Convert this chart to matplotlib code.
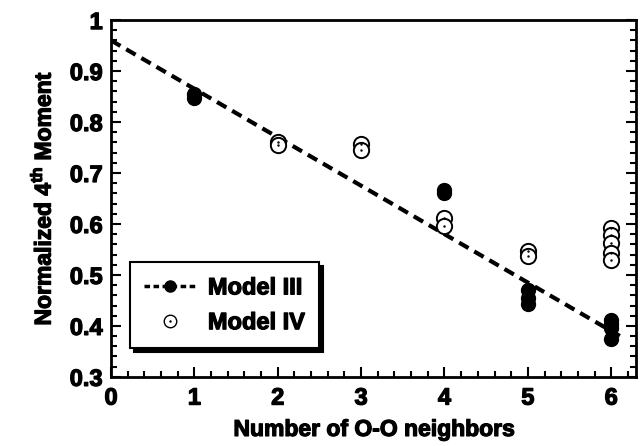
import numpy as np
import matplotlib
matplotlib.use('Agg')
import matplotlib.pyplot as plt
from matplotlib.ticker import MultipleLocator, FormatStrFormatter
from matplotlib.legend_handler import HandlerTuple
from matplotlib.lines import Line2D
import matplotlib.patheffects as pe

# data
m3_x = [1, 1, 4, 4, 5, 5, 5, 6, 6, 6, 6]
m3_y = [0.855, 0.848, 0.667, 0.660, 0.470, 0.455, 0.443, 0.412, 0.404, 0.395, 0.374]
m4_x = [2, 2, 3, 3, 4, 4, 5, 5, 6, 6, 6, 6, 6]
m4_y = [0.761, 0.755, 0.757, 0.745, 0.611, 0.596, 0.546, 0.538,
        0.592, 0.578, 0.562, 0.543, 0.529]
fit_intercept = 0.96
fit_slope = -0.095
fit_range = [0.0, 6.17]

plt.rcParams['font.family'] = ['Liberation Sans', 'DejaVu Sans']
plt.rcParams['font.weight'] = 'bold'
plt.rcParams['mathtext.fontset'] = 'custom'
plt.rcParams['mathtext.rm'] = 'Liberation Sans:bold'
plt.rcParams['mathtext.bf'] = 'Liberation Sans:bold'

thick = [pe.withStroke(linewidth=0.9, foreground='black')]


def main():
    fig = plt.figure(figsize=(6.42, 4.46), dpi=100)
    ax = fig.add_axes([0.173, 0.155, 0.818, 0.8])

    xf = np.linspace(fit_range[0], fit_range[1], 50)
    ax.plot(xf, fit_intercept + fit_slope * xf, color='black', lw=3,
            dashes=(2.6, 1.6), zorder=2)
    ax.plot(m3_x, m3_y, 'o', color='black', ms=10, zorder=3)
    ax.plot(m4_x, m4_y, 'o', mfc='white', mec='black', mew=1.4, ms=11, zorder=4)
    ax.plot(m4_x, m4_y, '.', color='black', ms=1.5, zorder=5)

    ax.set_xlim(0, 6.3)
    ax.set_ylim(0.3, 1.0)
    ax.xaxis.set_major_locator(MultipleLocator(1))
    ax.xaxis.set_minor_locator(MultipleLocator(0.2))
    ax.yaxis.set_major_locator(MultipleLocator(0.1))
    ax.yaxis.set_minor_locator(MultipleLocator(0.02))
    ax.yaxis.set_major_formatter(FormatStrFormatter('%g'))
    ax.tick_params(which='both', direction='in', right=True, top=False,
                   width=1.5, labelsize=17)
    ax.tick_params(which='major', length=7)
    ax.tick_params(which='minor', length=4)
    ax.tick_params(axis='x', pad=7)
    ax.tick_params(axis='y', pad=6)
    for s in ax.spines.values():
        s.set_linewidth(2)
    for t in ax.get_xticklabels() + ax.get_yticklabels():
        t.set_path_effects(thick)

    xl = ax.set_xlabel('Number of O-O neighbors', fontsize=16.5, fontweight='bold',
                       labelpad=6)
    yl = ax.set_ylabel('Normalized 4$^{\\mathrm{th}}$ Moment', fontsize=16.5,
                       fontweight='bold', labelpad=10)
    xl.set_path_effects(thick)
    yl.set_path_effects(thick)

    h3 = Line2D([], [], color='black', lw=2.5, dashes=(1.6, 1.0), marker='o', ms=8)
    h4a = Line2D([], [], ls='none', marker='o', mfc='white', mec='black', mew=1, ms=9)
    h4b = Line2D([], [], ls='none', marker='.', color='black', ms=1.5)
    leg = ax.legend([h3, (h4a, h4b)], ['Model III', 'Model IV'],
                    handler_map={tuple: HandlerTuple(ndivide=1, pad=0)},
                    loc='lower left', bbox_to_anchor=(0.036, 0.08),
                    fontsize=17, frameon=True, fancybox=False,
                    shadow={'color': 'black', 'alpha': 1, 'ox': 3, 'oy': -3},
                    handlelength=2.2, handletextpad=0.5, borderpad=0.6,
                    labelspacing=0.5, borderaxespad=0)
    frame = leg.get_frame()
    frame.set_edgecolor('black')
    frame.set_linewidth(1.5)
    for t in leg.get_texts():
        t.set_path_effects(thick)

    fig.savefig('out.png', dpi=100)


if __name__ == '__main__':
    main()
